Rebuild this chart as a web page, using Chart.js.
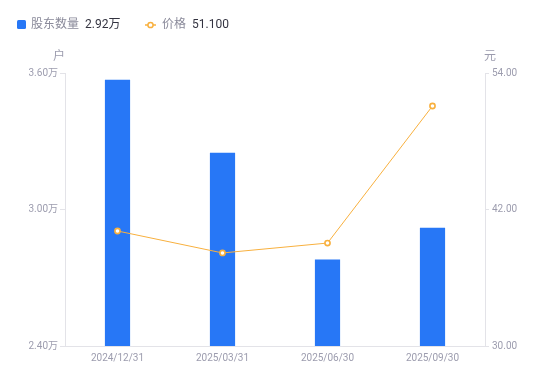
<!DOCTYPE html>
<html>
<head>
<meta charset="utf-8">
<script src="https://cdn.jsdelivr.net/npm/chart.js@4"></script>
<style>
  html, body { margin: 0; padding: 0; background: #fff; }
  #wrap { position: relative; width: 550px; height: 381px; }
</style>
</head>
<body>
<div id="wrap"><canvas id="chart" width="550" height="381"></canvas></div>
<script>
const dates = ['2024/12/31', '2025/03/31', '2025/06/30', '2025/09/30'];
const holders = [3.57, 3.25, 2.78, 2.92]; // 万户
const prices = [40.11, 38.18, 39.05, 51.10]; // 元
const holderTicks = [2.4, 3.0, 3.6];
const priceTicks = [30, 42, 54];

const BLUE = '#2777f6';
const ORANGE = '#f8b03e';
const TICK_COLOR = '#9c9cae';
const AXIS_COLOR = '#e3e3e8';
const FONT = 'Roboto, "Noto Sans CJK SC", sans-serif';

document.addEventListener('DOMContentLoaded', () => {
  // legend + axis unit titles drawn on canvas
  const decor = {
    id: 'decor',
    afterDraw(chart) {
      const ctx = chart.ctx;
      const area = chart.chartArea;
      ctx.save();
      ctx.textBaseline = 'middle';

      // legend item 1: bars
      ctx.fillStyle = BLUE;
      ctx.beginPath();
      ctx.roundRect(17, 20, 9, 9, 1.5);
      ctx.fill();
      ctx.font = '12px ' + FONT;
      ctx.fillStyle = '#8a8a9a';
      ctx.textAlign = 'left';
      ctx.fillText('股东数量', 31, 25);
      ctx.fillStyle = '#333340';
      ctx.fillText(holders[holders.length - 1].toFixed(2) + '万', 85, 25);

      // legend item 2: line
      ctx.strokeStyle = ORANGE;
      ctx.lineWidth = 1.5;
      ctx.beginPath();
      ctx.moveTo(145, 25);
      ctx.lineTo(156, 25);
      ctx.stroke();
      ctx.fillStyle = '#fff';
      ctx.beginPath();
      ctx.arc(150.5, 25, 2.6, 0, Math.PI * 2);
      ctx.fill();
      ctx.stroke();
      ctx.fillStyle = '#8a8a9a';
      ctx.fillText('价格', 162, 25);
      ctx.fillStyle = '#333340';
      ctx.fillText(prices[prices.length - 1].toFixed(3), 192, 25);

      // axis unit titles
      ctx.font = '12px ' + FONT;
      ctx.fillStyle = TICK_COLOR;
      ctx.textAlign = 'center';
      ctx.fillText('户', area.left - 6, 57);
      ctx.fillText('元', area.right + 5, 57);
      ctx.restore();
    },
  };

  const ctx = document.getElementById('chart').getContext('2d');
  new Chart(ctx, {
    data: {
      labels: dates,
      datasets: [
        {
          type: 'line',
          label: '价格',
          data: prices,
          yAxisID: 'yPrice',
          borderColor: ORANGE,
          borderWidth: 1,
          pointRadius: 2.6,
          pointBorderWidth: 1.6,
          pointBackgroundColor: '#fff',
          pointBorderColor: ORANGE,
          tension: 0,
          order: 0,
        },
        {
          type: 'bar',
          label: '股东数量',
          data: holders,
          yAxisID: 'yHolders',
          backgroundColor: BLUE,
          categoryPercentage: 1,
          barPercentage: 0.24,
          order: 1,
        },
      ],
    },
    options: {
      responsive: false,
      animation: false,
      layout: { padding: { top: 73, left: 0, right: 0, bottom: 0 } },
      plugins: { legend: { display: false }, tooltip: { enabled: false } },
      scales: {
        x: {
          grid: { display: false, drawTicks: false },
          border: { color: AXIS_COLOR, width: 1 },
          ticks: { color: TICK_COLOR, font: { size: 10, family: FONT }, padding: 6, maxRotation: 0 },
          afterFit: scale => { scale.height = 35; },
        },
        yHolders: {
          position: 'left',
          min: holderTicks[0],
          max: holderTicks[holderTicks.length - 1],
          afterBuildTicks: scale => { scale.ticks = holderTicks.map(v => ({ value: v })); },
          grid: { drawOnChartArea: false, drawTicks: true, tickLength: 5, color: AXIS_COLOR },
          border: { color: AXIS_COLOR, width: 1 },
          ticks: {
            color: TICK_COLOR,
            font: { size: 10, family: FONT },
            padding: 2,
            callback: v => v.toFixed(2) + '万',
          },
          afterFit: scale => { scale.width = 65; },
        },
        yPrice: {
          position: 'right',
          min: priceTicks[0],
          max: priceTicks[priceTicks.length - 1],
          afterBuildTicks: scale => { scale.ticks = priceTicks.map(v => ({ value: v })); },
          grid: { drawOnChartArea: false, drawTicks: true, tickLength: 4, color: AXIS_COLOR },
          border: { color: AXIS_COLOR, width: 1 },
          ticks: {
            color: TICK_COLOR,
            font: { size: 10, family: FONT },
            padding: 3,
            callback: v => v.toFixed(2),
          },
          afterFit: scale => { scale.width = 65; },
        },
      },
    },
    plugins: [decor],
  });
});
</script>
</body>
</html>
